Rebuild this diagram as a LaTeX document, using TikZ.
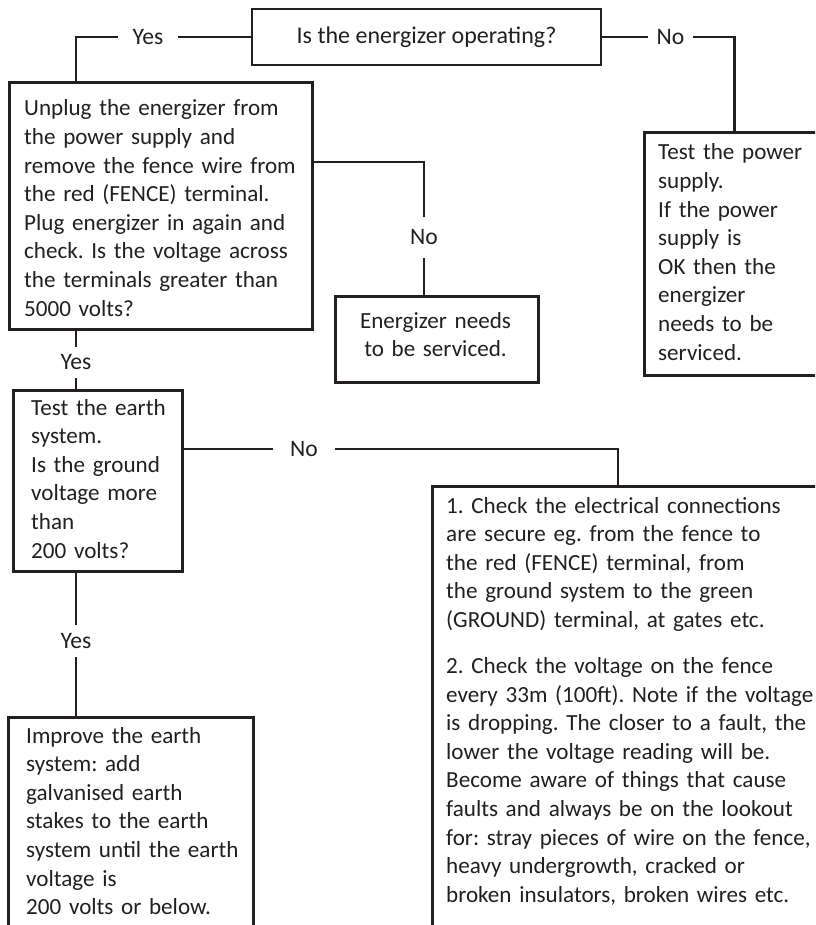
\documentclass[tikz,border=0pt]{standalone}
\usepackage{fontspec}
\setmainfont{Carlito}
\definecolor{ink}{RGB}{35,31,32}
\frenchspacing
\begin{document}
\begin{tikzpicture}[x=1pt,y=-1pt,
  every node/.style={text=ink},
  box/.style={draw=ink, line width=2.7pt, rectangle, inner sep=0pt, anchor=north west},
  txt/.style={inner sep=0pt, anchor=base west, align=left, text width=#1,
     font=\fontsize{23.1}{28.6}\selectfont},
  lbl/.style={inner sep=0pt, font=\fontsize{23.6}{28.6}\selectfont},
  conn/.style={draw=ink, line width=2.7pt}]
\useasboundingbox (0,0) rectangle (815,925);
\clip (0,0) rectangle (815,925);
% boxes
\node[box, anchor=center, minimum width=349pt, minimum height=56pt,
      font=\fontsize{24}{28.6}\selectfont] (top) at (426.5,37) {Is the energizer operating?};
\node[box, minimum width=303pt, minimum height=247pt] (unplug) at (8,81) {};
\node[box, minimum width=180pt, minimum height=243pt] (power) at (643,131) {};
\node[box, minimum width=203pt, minimum height=86pt] (service) at (334,295) {};
\node[box, minimum width=169pt, minimum height=181pt] (earth) at (12,389) {};
\node[box, minimum width=420pt, minimum height=500pt] (check) at (431,485) {};
\node[box, minimum width=245pt, minimum height=300pt] (improve) at (7,716) {};
% texts
\node[txt=420pt] (unplugtxt) at (24,116) {Unplug the energizer from\\
the power supply and\\
remove the fence wire from\\
the red (FENCE) terminal.\\
Plug energizer in again and\\
check. Is the voltage across\\
the terminals greater than\\
5000 volts?};
\node[txt=300pt] (powertxt) at (658,160) {Test the power\\
supply.\\
If the power\\
supply is\\
OK then the\\
energizer\\
needs to be\\
serviced.};
\node[txt=250pt, anchor=base, align=center] (servicetxt) at (435.5,328) {Energizer needs\\
to be serviced.};
\node[txt=300pt] (earthtxt) at (31,415) {Test the earth\\
system.\\
Is the ground\\
voltage more\\
than\\
200 volts?};
\node[txt=500pt] (checktxt) at (446,513) {1. Check the electrical connections\\
are secure eg. from the fence to\\
the red (FENCE) terminal, from\\
the ground system to the green\\
(GROUND) terminal, at gates etc.\\[17.5pt]
2. Check the voltage on the fence\\
every 33m (100ft). Note if the voltage\\
is dropping. The closer to a fault, the\\
lower the voltage reading will be.\\
Become aware of things that cause\\
faults and always be on the lookout\\
for: stray pieces of wire on the fence,\\
heavy undergrowth, cracked or\\
broken insulators, broken wires etc.};
\node[txt=400pt] (improvetxt) at (26,743) {Improve the earth\\
system: add\\
galvanised earth\\
stakes to the earth\\
system until the earth\\
voltage is\\
200 volts or below.};
% labels
\node[lbl, minimum width=60pt] (yes1) at (148,37) {Yes};
\node[lbl, minimum width=45pt] (no1) at (670.5,37) {No};
\node[lbl, minimum height=41pt] (no2) at (424,237.5) {No};
\node[lbl, minimum height=31pt] (yes2) at (76,362.5) {Yes};
\node[lbl, minimum width=62pt] (no3) at (304,449) {No};
\node[lbl, minimum height=32pt] (yes3) at (76,641) {Yes};
% free ends on box edges
\coordinate (j1) at (311,162);
\coordinate (j2) at (618,485);
% connectors
\draw[conn] (top.west) -- (yes1.east);
\draw[conn] (yes1.west) -| (yes2 |- unplug.north);
\draw[conn] (top.east) -- (no1.west);
\draw[conn] (no1.east) -| (power.north);
\draw[conn] (j1) -| (no2.north);
\draw[conn] (no2.south) -- (no2 |- service.north);
\draw[conn] (yes2 |- unplug.south) -- (yes2.north);
\draw[conn] (yes2.south) -- (yes2 |- earth.north);
\draw[conn] (no3.west) -- (no3 -| earth.east);
\draw[conn] (no3.east) -| (j2);
\draw[conn] (yes3 |- earth.south) -- (yes3.north);
\draw[conn] (yes3.south) -- (yes3 |- improve.north);
\end{tikzpicture}
\end{document}
